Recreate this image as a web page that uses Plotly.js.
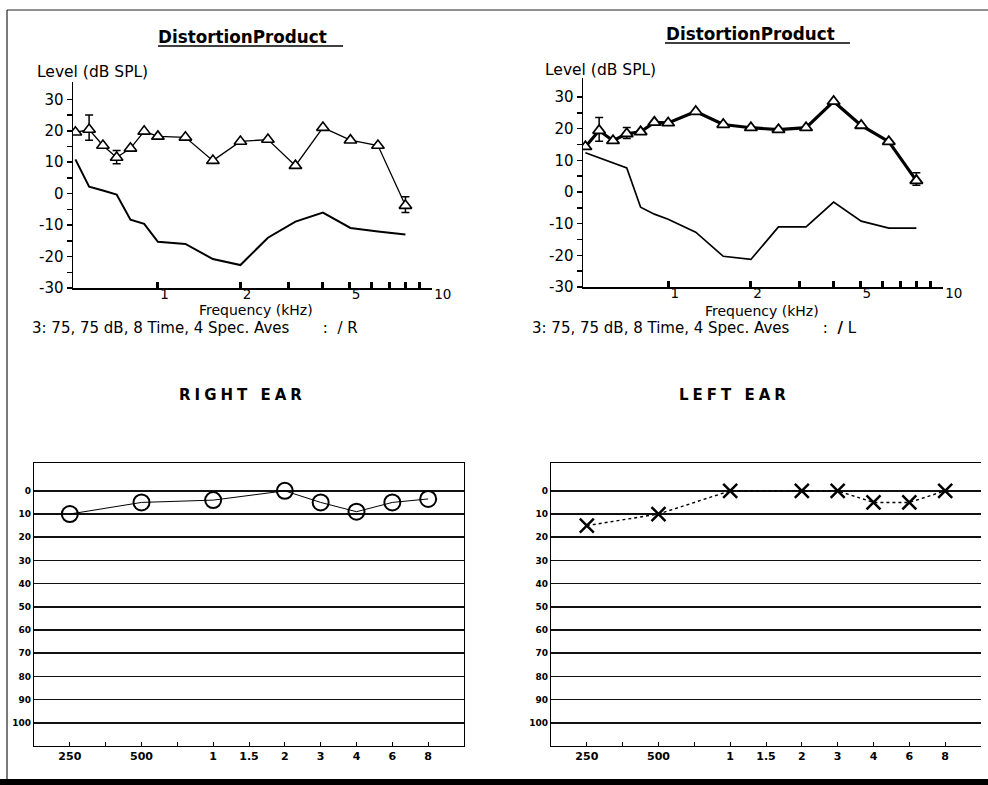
<!DOCTYPE html>
<html><head><meta charset="utf-8">
<script src="https://cdn.plot.ly/plotly-3.0.1.min.js"></script>
<style>html,body{margin:0;padding:0;background:#fff}#chart{width:988px;height:785px}</style>
</head><body><div id="chart"></div>
<script>
// ---- DP-gram data (kHz, dB SPL) ----
const dpFreqKHz = [0.5, 0.561, 0.63, 0.707, 0.794, 0.891, 1.0, 1.26, 1.587, 2.0, 2.52, 3.175, 4.0, 5.04, 6.35, 8.0];
const rightDP    = [19.5, 20.4, 15.3, 11.5, 14.4, 19.8, 18.2, 17.9, 10.5, 16.6, 17.2, 8.9, 21.0, 17.0, 15.3, -3.8];
const rightNoise = [10.9, 2.2, 1.0, -0.3, -8.3, -9.6, -15.3, -16.0, -20.8, -22.7, -14.0, -8.9, -6.0, -10.9, -12.0, -13.0];
const leftDP     = [14.3, 19.4, 16.2, 18.4, 19.0, 22.0, 21.8, 25.4, 21.3, 20.3, 19.7, 20.3, 28.6, 21.0, 15.9, 3.6];
const leftNoise  = [12.4, 10.8, 9.2, 7.6, -4.8, -7.0, -8.6, -12.7, -20.3, -21.3, -11.0, -11.0, -3.2, -9.2, -11.4, -11.4];
// error bars at selected frequencies
const errFreqKHz = [0.561, 0.707, 8.0];
const rightErrY = [20.4, 11.5, -3.8];
const rightErrPlus = [4.6, 2.2, 2.8];
const rightErrMinus = [3.4, 2.0, 2.2];
const leftErrY = [19.4, 18.4, 3.6];
const leftErrPlus = [4.1, 2.0, 2.5];
const leftErrMinus = [3.4, 1.5, 1.5];
const dpTickVals = [1, 2, 3, 4, 5, 6, 7, 8, 9, 10];
const dpTickText = ['1', '2', '', '', '5', '', '', '', '', '10'];
const levelTickVals = [-30, -25, -20, -15, -10, -5, 0, 5, 10, 15, 20, 25, 30];
const levelTickText = ['-30', '', '-20', '', '-10', '', '0', '', '10', '', '20', '', '30'];

// ---- Audiogram data (Hz, dB HL) ----
const audioFreqs = [250, 354, 500, 707, 1000, 1500, 2000, 3000, 4000, 6000, 8000];
const audioFreqLabels = ['250', '', '500', '', '1', '1.5', '2', '3', '4', '6', '8'];
const testedFreqs = [250, 500, 1000, 2000, 3000, 4000, 6000, 8000];
const rightEarHL = [10, 5, 4, 0, 5, 9, 5, 3.5];
const leftEarHL  = [15, 10, 0, 0, 0, 5, 5, 0];
const hlTicks = [0, 10, 20, 30, 40, 50, 60, 70, 80, 90, 100];

const W = 988, H = 785;
const px = v => v / W, py = v => 1 - v / H;
const FONT = 'DejaVu Sans, sans-serif';
const testedPos = testedFreqs.map(f => audioFreqs.indexOf(f));
const audioPos = audioFreqs.map((f, i) => i);

const traces = [
  // top-left (right ear DP-gram)
  {x: dpFreqKHz, y: rightNoise, xaxis: 'x', yaxis: 'y', mode: 'lines', line: {color: '#000', width: 2}},
  {x: errFreqKHz, y: rightErrY, xaxis: 'x', yaxis: 'y', mode: 'markers', marker: {color: 'rgba(0,0,0,0)', size: 1},
   error_y: {type: 'data', symmetric: false, array: rightErrPlus, arrayminus: rightErrMinus, color: '#000', thickness: 1.5, width: 4}},
  {x: dpFreqKHz, y: rightDP, xaxis: 'x', yaxis: 'y', mode: 'lines+markers', line: {color: '#000', width: 1.3},
   marker: {symbol: 'triangle-up', size: 11, color: '#fff', line: {color: '#000', width: 1.6}}},
  // top-right (left ear DP-gram)
  {x: dpFreqKHz, y: leftNoise, xaxis: 'x2', yaxis: 'y2', mode: 'lines', line: {color: '#000', width: 1.7}},
  {x: errFreqKHz, y: leftErrY, xaxis: 'x2', yaxis: 'y2', mode: 'markers', marker: {color: 'rgba(0,0,0,0)', size: 1},
   error_y: {type: 'data', symmetric: false, array: leftErrPlus, arrayminus: leftErrMinus, color: '#000', thickness: 1.5, width: 4}},
  {x: dpFreqKHz, y: leftDP, xaxis: 'x2', yaxis: 'y2', mode: 'lines+markers', line: {color: '#000', width: 3.2},
   marker: {symbol: 'triangle-up', size: 11, color: '#fff', line: {color: '#000', width: 1.8}}},
  // bottom-left (right ear audiogram)
  {x: testedPos, y: rightEarHL, xaxis: 'x3', yaxis: 'y3', mode: 'lines+markers', line: {color: '#000', width: 1},
   marker: {symbol: 'circle-open', size: 16, color: '#000', line: {color: '#000', width: 2}}},
  // bottom-right (left ear audiogram)
  {x: testedPos, y: leftEarHL, xaxis: 'x4', yaxis: 'y4', mode: 'lines+markers', line: {color: '#000', width: 1.4, dash: 'dot'},
   marker: {symbol: 'x-thin-open', size: 14, color: '#000', line: {color: '#000', width: 2.5}}}
];

function dpX(domain) {
  return {type: 'log', domain: domain, range: [Math.log10(0.49), 1], showline: true, linecolor: '#000', linewidth: 1.5,
    ticks: 'inside', ticklen: 6, tickwidth: 3, tickcolor: '#000', tickvals: dpTickVals, ticktext: dpTickText,
    ticklabelposition: 'outside right', ticklabelstandoff: -7, showgrid: false, zeroline: false, fixedrange: true,
    tickfont: {family: FONT, size: 13.5, color: '#000'}};
}
function dpY(domain, top) {
  return {domain: domain, range: [-30, top], showline: true, linecolor: '#000', linewidth: 1.5,
    ticks: 'outside', ticklen: 5, tickwidth: 1.5, tickcolor: '#000', tickvals: levelTickVals, ticktext: levelTickText,
    showgrid: false, zeroline: false, tickfont: {family: FONT, size: 15, color: '#000'}};
}
function audX(domain) {
  return {domain: domain, range: [-1, 11], showline: true, mirror: true, linecolor: '#000', linewidth: 1.2,
    ticks: 'inside', ticklen: 4, tickwidth: 1, tickcolor: '#000', tickvals: audioPos, ticktext: audioFreqLabels,
    showgrid: false, zeroline: false, tickfont: {family: FONT, size: 11, color: '#000', weight: 'bold'}};
}
function audY(domain, mirror) {
  return {domain: domain, range: [110, -12], showline: true, mirror: mirror, linecolor: '#000', linewidth: 1.2,
    ticks: '', tickvals: hlTicks, showgrid: true, gridcolor: '#111', gridwidth: 1.6, zeroline: false,
    ticklabelstandoff: 0, tickfont: {family: FONT, size: 9, color: '#000', weight: 'bold'}};
}

const ann = (text, x, y, opts) => Object.assign({text: text, x: px(x), y: py(y), xref: 'paper', yref: 'paper',
  showarrow: false, xanchor: 'left', yanchor: 'middle', font: {family: FONT, size: 15.5, color: '#000'}}, opts || {});
const nb = '\u00A0';
const gap = nb + nb + nb + nb + nb + nb + nb;

const layout = {
  width: W, height: H, margin: {l: 0, r: 0, t: 0, b: 0}, paper_bgcolor: '#fff', plot_bgcolor: 'rgba(0,0,0,0)',
  showlegend: false, font: {family: FONT, color: '#000'},
  xaxis: Object.assign(dpX([px(73), px(432)]), {anchor: 'y'}),
  yaxis: Object.assign(dpY([py(288), py(82)], 35.5), {anchor: 'x'}),
  xaxis2: Object.assign(dpX([px(583), px(943)]), {anchor: 'y2'}),
  yaxis2: Object.assign(dpY([py(287), py(78)], 36), {anchor: 'x2'}),
  xaxis3: Object.assign(audX([px(34), px(464)]), {anchor: 'y3'}),
  yaxis3: Object.assign(audY([py(746), py(463)], true), {anchor: 'x3'}),
  xaxis4: Object.assign(audX([px(551), px(981)]), {anchor: 'y4'}),
  yaxis4: Object.assign(audY([py(746), py(463)], false), {anchor: 'x4'}),
  annotations: [
    ann('<b>DistortionProduct</b>', 242, 37, {xanchor: 'center', font: {family: FONT, size: 16.8, color: '#000'}}),
    ann('<b>DistortionProduct</b>', 750, 34, {xanchor: 'center', font: {family: FONT, size: 16.8, color: '#000'}}),
    ann('Level (dB SPL)', 35, 72),
    ann('Level (dB SPL)', 543, 70),
    ann('Frequency (kHz)', 256, 310, {xanchor: 'center', font: {family: FONT, size: 14, color: '#000'}}),
    ann('Frequency (kHz)', 762, 311, {xanchor: 'center', font: {family: FONT, size: 14, color: '#000'}}),
    ann('3: 75, 75 dB, 8 Time, 4 Spec. Aves' + gap + ':' + nb + nb + '/' + nb + 'R', 30, 328, {font: {family: FONT, size: 15, color: '#000'}}),
    ann('3: 75, 75 dB, 8 Time, 4 Spec. Aves' + gap + ':' + nb + nb + '<b>/</b>' + nb + 'L', 530, 328, {font: {family: FONT, size: 15, color: '#000'}}),
    ann('<span style="letter-spacing:4px">RIGHT EAR</span>', 242, 395, {xanchor: 'center', font: {family: FONT, size: 15, color: '#000', weight: 'bold'}}),
    ann('<span style="letter-spacing:4px">LEFT EAR</span>', 734, 395, {xanchor: 'center', font: {family: FONT, size: 15, color: '#000', weight: 'bold'}})
  ],
  shapes: [
    {type: 'line', xref: 'paper', yref: 'paper', x0: px(158), x1: px(343), y0: py(46), y1: py(46), line: {color: '#000', width: 1.5}},
    {type: 'line', xref: 'paper', yref: 'paper', x0: px(665), x1: px(850), y0: py(43), y1: py(43), line: {color: '#000', width: 1.5}},
    {type: 'line', xref: 'paper', yref: 'paper', x0: px(7), x1: px(7), y0: py(10), y1: py(779), line: {color: '#222', width: 1.2}},
    {type: 'line', xref: 'paper', yref: 'paper', x0: px(7), x1: 1, y0: py(10), y1: py(10), line: {color: '#222', width: 1.2}},
    {type: 'rect', xref: 'paper', yref: 'paper', x0: 0, x1: 1, y0: 0, y1: py(779), fillcolor: '#000', line: {width: 0}}
  ]
};

Plotly.newPlot('chart', traces, layout, {staticPlot: true, displayModeBar: false});
</script></body></html>
